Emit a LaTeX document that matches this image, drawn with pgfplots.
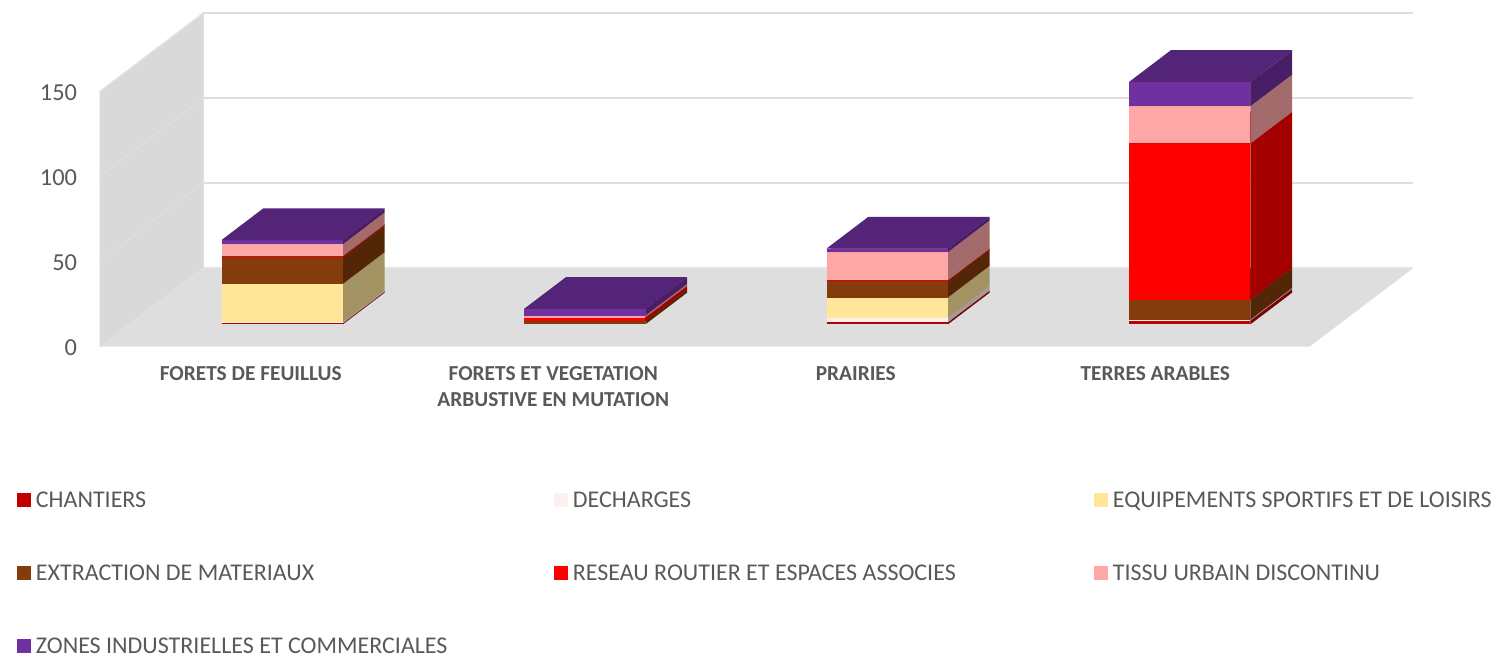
\documentclass[border=0pt]{standalone}
\usepackage{fontspec}
\setmainfont{Carlito}
\usepackage{pgfplots}
\pgfplotsset{compat=1.18}
\definecolor{txt}{HTML}{595959}
\definecolor{chantiers}{HTML}{C00000}
\definecolor{decharges}{HTML}{FFF0F0}
\definecolor{equip}{HTML}{FFE699}
\definecolor{extraction}{HTML}{843C0C}
\definecolor{reseau}{HTML}{FF0000}
\definecolor{tissu}{HTML}{FFA7A7}
\definecolor{zones}{HTML}{7030A0}
\newcommand{\xa}{0}\newcommand{\xb}{0}\newcommand{\zb}{0}
% start a bar at the given x range
\newcommand{\startbar}[2]{\gdef\xa{#1}\gdef\xb{#2}\gdef\zb{0}}
% one stacked segment: colour, value
\newcommand{\seg}[2]{%
  \pgfmathsetmacro{\zt}{\zb+#2}%
  \addplot3[forget plot,no markers,draw=none,fill=#1!64!black] coordinates {(\xb,0.285,\zb) (\xb,0.69,\zb) (\xb,0.69,\zt) (\xb,0.285,\zt)} -- cycle;
  \addplot3[forget plot,no markers,draw=none,fill=#1] coordinates {(\xa,0.285,\zb) (\xb,0.285,\zb) (\xb,0.285,\zt) (\xa,0.285,\zt)} -- cycle;
  \addplot3[forget plot,no markers,draw=none,fill=#1!75!black] coordinates {(\xa,0.285,\zt) (\xb,0.285,\zt) (\xb,0.69,\zt) (\xa,0.69,\zt)} -- cycle;
  \xdef\zb{\zt}}
\begin{document}
\begin{tikzpicture}
\useasboundingbox (0,0) rectangle (748.5pt,327.5pt);
\begin{axis}[
  at={(49.75pt,154.15pt)}, anchor=origin,
  x={(151.25pt,0pt)}, y={(51.7pt,39.2pt)}, z={(0pt,0.85pt)},
  xmin=0,xmax=4,ymin=0,ymax=1,zmin=0,zmax=150,
  clip=false,
  axis line style={draw=none},
  major tick length=0pt, minor tick num=0,
  ytick=\empty,
  ztick={0,50,100,150},
  xtick={0.5,1.5,2.5,3.49},
  xticklabels={FORETS DE FEUILLUS,{FORETS ET VEGETATION\\ARBUSTIVE EN MUTATION},PRAIRIES,TERRES ARABLES},
  /pgf/number format/assume math mode=true,
  tick label style={text=txt},
  z tick label style={font=\fontsize{12.2}{14}\selectfont,anchor=east,inner sep=0pt,xshift=-11pt,yshift=-0.4pt},
  x tick label style={font=\fontsize{10.67}{13}\selectfont\bfseries,align=center,anchor=north,yshift=-6.5pt},
  legend columns=3,
  legend cell align=left,
  legend image code/.code={\fill[draw=none,#1] (0pt,-3.5pt) rectangle (7pt,3.5pt);},
  legend style={draw=none,fill=none,at={(-44.5pt,-70pt)},anchor=north west,
    row sep=27.5pt,
    font=\fontsize{12}{12}\selectfont,text=txt,
    nodes={inner sep=0pt,outer sep=0pt,text height=8pt,text depth=1pt}},
]
% walls and floor
\addplot3[forget plot,no markers,draw=none,fill=white!85!black] coordinates {(0,0,0) (0,1,0) (0,1,150) (0,0,150)} -- cycle;
\addplot3[forget plot,no markers,draw=none,fill=white!87!black] coordinates {(0,0,0) (4,0,0) (4,1,0) (0,1,0)} -- cycle;
% gridlines
\addplot3[forget plot,no markers,color=white!89!black,line width=0.9pt] coordinates {(0,1,0) (4,1,0)};
\addplot3[forget plot,no markers,color=white!87!black,line width=0.9pt] coordinates {(0,1,50) (4,1,50)};
\addplot3[forget plot,no markers,color=white!87!black,line width=0.9pt] coordinates {(0,1,100) (4,1,100)};
\addplot3[forget plot,no markers,color=white!87!black,line width=0.9pt] coordinates {(0,1,150) (4,1,150)};
\addplot3[forget plot,no markers,color=white!87!black,line width=0.9pt] coordinates {(0,1,0) (0,1,150)};
\addplot3[forget plot,no markers,color=white!89!black,line width=0.3pt] coordinates {(0,0,50) (0,1,50)};
\addplot3[forget plot,no markers,color=white!89!black,line width=0.3pt] coordinates {(0,0,100) (0,1,100)};
\addplot3[forget plot,no markers,color=white!89!black,line width=0.3pt] coordinates {(0,0,0) (0,1,0)};
\addplot3[forget plot,no markers,color=white!89!black,line width=0.7pt] coordinates {(0,0,150) (0,1,150)};
% FORETS DE FEUILLUS
\startbar{0.306}{0.707}
\seg{chantiers}{0.6}\seg{decharges}{1.0}\seg{equip}{22.2}\seg{extraction}{15.6}\seg{reseau}{0.7}\seg{tissu}{7.1}\seg{zones}{2.4}
% FORETS ET VEGETATION ARBUSTIVE EN MUTATION
\startbar{1.306}{1.707}
\seg{extraction}{1.8}\seg{reseau}{2.2}\seg{tissu}{1.2}\seg{zones}{3.9}
% PRAIRIES
\startbar{2.306}{2.707}
\seg{chantiers}{1.2}\seg{decharges}{2.8}\seg{equip}{11.8}\seg{extraction}{9.6}\seg{reseau}{0.5}\seg{tissu}{16.6}\seg{zones}{2.1}
% TERRES ARABLES
\startbar{3.306}{3.707}
\seg{chantiers}{2.2}\seg{decharges}{0.6}\seg{extraction}{11.8}\seg{reseau}{91.8}\seg{tissu}{21.9}\seg{zones}{14.3}
% legend
\addlegendimage{fill=chantiers,draw=none}\addlegendentry{\makebox[261.5pt][l]{\hspace{2.5pt}CHANTIERS}}
\addlegendimage{fill=decharges,draw=none}\addlegendentry{\makebox[263pt][l]{\hspace{2.5pt}DECHARGES}}
\addlegendimage{fill=equip,draw=none}\addlegendentry{\makebox[190pt][l]{\hspace{2.5pt}EQUIPEMENTS SPORTIFS ET DE LOISIRS}}
\addlegendimage{fill=extraction,draw=none}\addlegendentry{\makebox[261.5pt][l]{\hspace{2.5pt}EXTRACTION DE MATERIAUX}}
\addlegendimage{fill=reseau,draw=none}\addlegendentry{\makebox[263pt][l]{\hspace{2.5pt}RESEAU ROUTIER ET ESPACES ASSOCIES}}
\addlegendimage{fill=tissu,draw=none}\addlegendentry{\makebox[190pt][l]{\hspace{2.5pt}TISSU URBAIN DISCONTINU}}
\addlegendimage{fill=zones,draw=none}\addlegendentry{\makebox[261.5pt][l]{\hspace{2.5pt}ZONES INDUSTRIELLES ET COMMERCIALES}}
\end{axis}
\end{tikzpicture}
\end{document}
